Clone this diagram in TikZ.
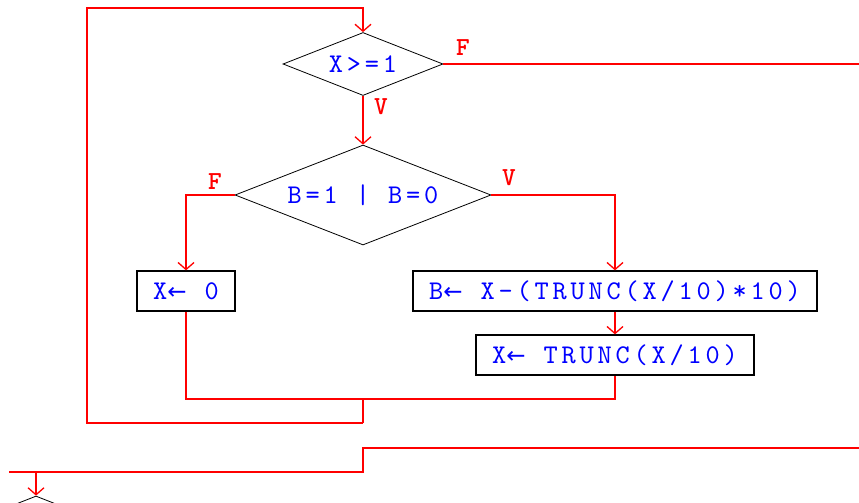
\documentclass[tikz,border=0pt]{standalone}
\usepackage{fontspec}
\usetikzlibrary{shapes.geometric,arrows.meta}
\newfontfamily\symfont{DejaVu Sans}
\newfontfamily\codefam{lmmono10-regular.otf}[LetterSpace=14.2]
\newfontfamily\markfam{lmmonolt10-bold.otf}
\newcommand{\codefont}{\codefam\fontsize{27}{27}\selectfont}
\newcommand{\markfont}{\markfam\fontsize{26}{26}\selectfont}
\newcommand{\asgn}{{\symfont\fontsize{23}{23}\selectfont ←}}
\tikzset{
    flow/.style={draw=red, line width=1.3pt},
    arr/.style={-{Straight Barb[length=7pt,width=16pt]}},
    decision/.style={diamond, draw, line width=0.8pt, inner sep=0pt, aspect=2.5, text=blue, font=\codefont},
    action/.style={rectangle, draw, line width=1.3pt, inner sep=0pt, minimum height=40pt, text=blue, font=\codefont},
    lbl/.style={text=red, font=\markfont, inner sep=0pt}
}
\begin{document}
\begin{tikzpicture}[x=1pt, y=-1pt]
    \useasboundingbox (0,0) rectangle (859,503);
    \node[decision, minimum width=160pt, minimum height=63pt] (c1) at (363,64) {X>=1};
    \node[decision, minimum width=256pt, minimum height=100pt] (c2) at (363,195) {B=1 | B=0};
    \node[action, minimum width=98pt] (a0) at (186,291) {X\asgn{} 0};
    \node[action, minimum width=404pt] (a1) at (615,291) {B\asgn{} X-(TRUNC(X/10)*10)};
    \node[action, minimum width=278pt] (a2) at (615,355) {X\asgn{} TRUNC(X/10)};
    \node[decision, minimum width=160pt, minimum height=63pt] (c3) at (36,527.5) {};
    \node[lbl] (f1) at (463,48) {F};
    \node[lbl] (v1) at (381,107) {V};
    \node[lbl] (f2) at (215,182) {F};
    \node[lbl] (v2) at (509,178) {V};
    \coordinate (lp) at (87,8);
    \coordinate (ex1) at (859,64);
    \coordinate (ex2) at (859,448);
    \coordinate (m) at (615,399);
    \coordinate (j1) at (363,399);
    \coordinate (j2) at (363,423);
    \coordinate (j3) at (363,472);
    \coordinate (j4) at (36,472);
    \coordinate (e) at (9,472);
    % loop
    \draw[flow, arr] (j2) -| (lp) -| (c1.north);
    \draw[flow] (c1.east) -- (ex1);
    \draw[flow, arr] (c1.south) -- (c2.north);
    \draw[flow, arr] (c2.west) -| (a0.north);
    \draw[flow, arr] (c2.east) -| (a1.north);
    \draw[flow, arr] (a1.south) -- (a2.north);
    \draw[flow] (a0.south) |- (m) -- (a2.south);
    \draw[flow] (j1) -- (j2);
    % exit
    \draw[flow] (ex2) -| (j3) -- (e);
    \draw[flow, arr] (j4) -- (c3.north);
\end{tikzpicture}
\end{document}
